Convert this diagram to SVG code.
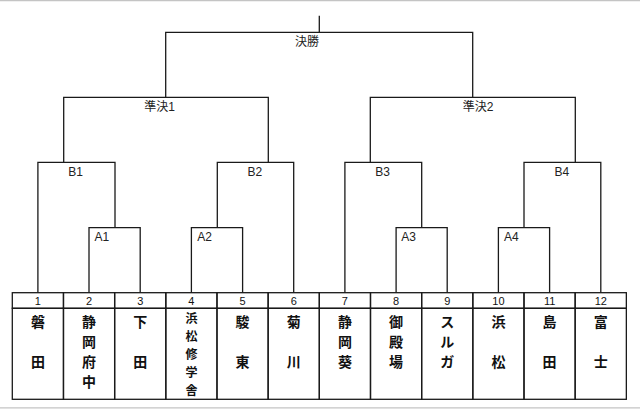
<svg xmlns="http://www.w3.org/2000/svg" width="640" height="409" viewBox="0 0 640 409">
<style>
.ln{fill:none;stroke:#1a1a1a;stroke-width:1.3;stroke-linejoin:miter}
.cell{fill:none;stroke:#1a1a1a;stroke-width:1.3}
.lbl{font-family:"Liberation Sans","Noto Sans CJK JP",sans-serif;font-size:12px;fill:#222}
.num{font-family:"Liberation Sans","Noto Sans CJK JP",sans-serif;font-size:11px;fill:#111;text-anchor:middle}
.nm{font-family:"Noto Sans CJK JP",sans-serif;font-size:14px;font-weight:bold;fill:#111;text-anchor:middle}
.nm.s{font-size:12px}
.edge{stroke:#c4c4c4;stroke-width:1.2}
</style>
<rect width="640" height="409" fill="#fff"/>
<line class="edge" x1="0" y1="0.6" x2="640" y2="0.6"/>
<line class="edge" x1="0" y1="407.8" x2="640" y2="407.8"/>
<g id="connectors">
<path class="ln" d="M319.3 15.7 V32.3"/>
<path class="ln" d="M165.7 97.3 V32.3 H472.7 V97.3"/>
<path class="ln" d="M63.7 162.3 V97.3 H268.3 V162.3"/>
<path class="ln" d="M370.3 162.3 V97.3 H575.3 V162.3"/>
<path class="ln" d="M37.9 292.7 V162.3 H115 V227.7"/>
<path class="ln" d="M217.3 227.7 V162.3 H293.7 V292.7"/>
<path class="ln" d="M344.9 292.7 V162.3 H421.7 V227.7"/>
<path class="ln" d="M524 227.7 V162.3 H600.8 V292.7"/>
<path class="ln" d="M89 292.7 V227.7 H140.2 V292.7"/>
<path class="ln" d="M191.4 292.7 V227.7 H242.6 V292.7"/>
<path class="ln" d="M396.1 292.7 V227.7 H447.2 V292.7"/>
<path class="ln" d="M498.4 292.7 V227.7 H549.6 V292.7"/>
</g>
<g id="final"><text class="lbl" x="307" y="46" text-anchor="middle">決勝</text></g>
<g id="sf1"><text class="lbl" x="159.5" y="110.5" text-anchor="middle">準決1</text></g>
<g id="sf2"><text class="lbl" x="478" y="110.5" text-anchor="middle">準決2</text></g>
<g id="B1"><text class="lbl" x="68.2" y="175.7">B1</text></g>
<g id="B2"><text class="lbl" x="247.5" y="175.7">B2</text></g>
<g id="B3"><text class="lbl" x="375.2" y="175.7">B3</text></g>
<g id="B4"><text class="lbl" x="554.5" y="175.7">B4</text></g>
<g id="A1"><text class="lbl" x="94.6" y="241">A1</text></g>
<g id="A2"><text class="lbl" x="197.3" y="241">A2</text></g>
<g id="A3"><text class="lbl" x="401.3" y="241">A3</text></g>
<g id="A4"><text class="lbl" x="503.9" y="241">A4</text></g>

<g id="team1"><rect class="cell" x="12.3" y="292.7" width="51.17" height="15.6"/><rect class="cell" x="12.3" y="308.3" width="51.17" height="91"/><text class="num" x="37.9" y="305">1</text><text class="nm" x="37.9" y="327">磐</text><text class="nm" x="37.9" y="367">田</text></g>
<g id="team2"><rect class="cell" x="63.47" y="292.7" width="51.17" height="15.6"/><rect class="cell" x="63.47" y="308.3" width="51.17" height="91"/><text class="num" x="89.05" y="305">2</text><text class="nm" x="89.05" y="327">静</text><text class="nm" x="89.05" y="347">岡</text><text class="nm" x="89.05" y="367">府</text><text class="nm" x="89.05" y="387">中</text></g>
<g id="team3"><rect class="cell" x="114.64" y="292.7" width="51.17" height="15.6"/><rect class="cell" x="114.64" y="308.3" width="51.17" height="91"/><text class="num" x="140.2" y="305">3</text><text class="nm" x="140.2" y="327">下</text><text class="nm" x="140.2" y="367">田</text></g>
<g id="team4"><rect class="cell" x="165.81" y="292.7" width="51.17" height="15.6"/><rect class="cell" x="165.81" y="308.3" width="51.17" height="91"/><text class="num" x="191.4" y="305">4</text><text class="nm s" x="191.4" y="323">浜</text><text class="nm s" x="191.4" y="341">松</text><text class="nm s" x="191.4" y="359">修</text><text class="nm s" x="191.4" y="377">学</text><text class="nm s" x="191.4" y="395">舎</text></g>
<g id="team5"><rect class="cell" x="216.98" y="292.7" width="51.17" height="15.6"/><rect class="cell" x="216.98" y="308.3" width="51.17" height="91"/><text class="num" x="242.6" y="305">5</text><text class="nm" x="242.6" y="327">駿</text><text class="nm" x="242.6" y="367">東</text></g>
<g id="team6"><rect class="cell" x="268.15" y="292.7" width="51.17" height="15.6"/><rect class="cell" x="268.15" y="308.3" width="51.17" height="91"/><text class="num" x="293.7" y="305">6</text><text class="nm" x="293.7" y="327">菊</text><text class="nm" x="293.7" y="367">川</text></g>
<g id="team7"><rect class="cell" x="319.32" y="292.7" width="51.17" height="15.6"/><rect class="cell" x="319.32" y="308.3" width="51.17" height="91"/><text class="num" x="344.9" y="305">7</text><text class="nm" x="344.9" y="327">静</text><text class="nm" x="344.9" y="347">岡</text><text class="nm" x="344.9" y="367">葵</text></g>
<g id="team8"><rect class="cell" x="370.49" y="292.7" width="51.17" height="15.6"/><rect class="cell" x="370.49" y="308.3" width="51.17" height="91"/><text class="num" x="396.1" y="305">8</text><text class="nm" x="396.1" y="327">御</text><text class="nm" x="396.1" y="347">殿</text><text class="nm" x="396.1" y="367">場</text></g>
<g id="team9"><rect class="cell" x="421.66" y="292.7" width="51.17" height="15.6"/><rect class="cell" x="421.66" y="308.3" width="51.17" height="91"/><text class="num" x="447.2" y="305">9</text><text class="nm" x="447.2" y="327">ス</text><text class="nm" x="447.2" y="347">ル</text><text class="nm" x="447.2" y="367">ガ</text></g>
<g id="team10"><rect class="cell" x="472.83" y="292.7" width="51.17" height="15.6"/><rect class="cell" x="472.83" y="308.3" width="51.17" height="91"/><text class="num" x="498.4" y="305">10</text><text class="nm" x="498.4" y="327">浜</text><text class="nm" x="498.4" y="367">松</text></g>
<g id="team11"><rect class="cell" x="524" y="292.7" width="51.17" height="15.6"/><rect class="cell" x="524" y="308.3" width="51.17" height="91"/><text class="num" x="549.6" y="305">11</text><text class="nm" x="549.6" y="327">島</text><text class="nm" x="549.6" y="367">田</text></g>
<g id="team12"><rect class="cell" x="575.17" y="292.7" width="51.17" height="15.6"/><rect class="cell" x="575.17" y="308.3" width="51.17" height="91"/><text class="num" x="600.8" y="305">12</text><text class="nm" x="600.8" y="327">富</text><text class="nm" x="600.8" y="367">士</text></g>
</svg>
